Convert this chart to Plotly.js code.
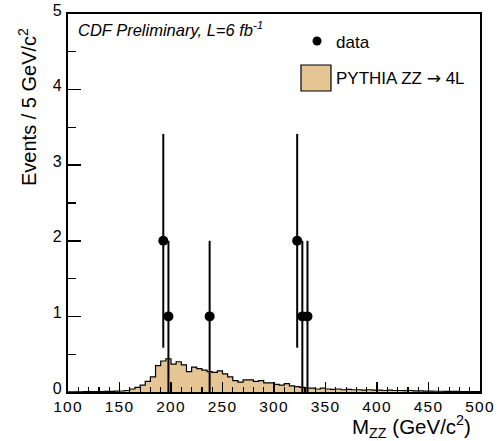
<!DOCTYPE html>
<html>
<head>
<meta charset="utf-8">
<script src="https://cdn.plot.ly/plotly-3.0.1.min.js"></script>
<style>
  html, body { margin: 0; padding: 0; background: #fff; }
  #chart { width: 499px; height: 441px; }
  .xtick text, .ytick text { letter-spacing: 1.2px; }
</style>
</head>
<body>
<div id="chart"></div>
<script>
// Histogram: PYTHIA ZZ -> 4L, 5 GeV bins from 100 to 500
const binStart = 100;
const binWidth = 5;
const mcValues = [
  0.002, 0.003, 0.003, 0.004, 0.005, 0.005, 0.006, 0.008, 0.009, 0.011,
  0.013, 0.02, 0.04, 0.06, 0.09, 0.14, 0.20, 0.35, 0.41, 0.44,
  0.37, 0.40, 0.36, 0.27, 0.33, 0.31, 0.29, 0.27, 0.26, 0.28,
  0.24, 0.20, 0.15, 0.13, 0.16, 0.16, 0.14, 0.15, 0.12, 0.12,
  0.10, 0.09, 0.11, 0.08, 0.07, 0.06, 0.05, 0.05, 0.04, 0.05,
  0.04, 0.035, 0.04, 0.03, 0.035, 0.03, 0.03, 0.025, 0.03, 0.025,
  0.025, 0.02, 0.025, 0.02, 0.02, 0.018, 0.02, 0.015, 0.015, 0.012,
  0.012, 0.01, 0.01, 0.008, 0.008, 0.007, 0.006, 0.005, 0.005, 0.004
];

// Data points
const dataMass = [192.5, 197.5, 237.5, 322.5, 327.5, 332.5];
const dataCounts = [2, 1, 1, 2, 1, 1];
const dataErrors = [1.414, 1, 1, 1.414, 1, 1];

// Axis ticks
const xTickVals = [100, 150, 200, 250, 300, 350, 400, 450, 500];
const xTickText = ['100', '150', '200', '250', '300', '350', '400', '450', '500'];
const yTickVals = [0, 1, 2, 3, 4, 5];
const yTickText = ['0', '1', '2', '3', '4', '5'];

// Build step outline (left edges + final right edge)
const stepX = mcValues.map((v, i) => binStart + i * binWidth);
const stepY = mcValues.slice();
stepX.push(binStart + mcValues.length * binWidth);
stepY.push(mcValues[mcValues.length - 1]);

const fillColor = '#e6c594';
const font = 'Liberation Sans, Arial, Helvetica, sans-serif';

const traces = [
  {
    type: 'scatter', mode: 'lines',
    x: stepX, y: stepY,
    line: { shape: 'hv', color: '#000', width: 1.2 },
    fill: 'tozeroy', fillcolor: fillColor,
    hoverinfo: 'skip', showlegend: false
  },
  {
    type: 'scatter', mode: 'markers',
    x: dataMass, y: dataCounts,
    marker: { color: '#000', size: 10, symbol: 'circle' },
    error_y: { type: 'data', array: dataErrors, arrayminus: dataErrors, symmetric: false,
               color: '#000', thickness: 2, width: 0 },
    showlegend: false, cliponaxis: false
  }
];

// helpers for paper coordinates from pixel positions
const L = 68, R = 480, T = 14, B = 392;
const px = v => (v - L) / (R - L);
const py = v => (B - v) / (B - T);

const layout = {
  width: 499, height: 441,
  margin: { l: L, r: 499 - R, t: T, b: 441 - B },
  paper_bgcolor: '#fff', plot_bgcolor: '#fff',
  showlegend: false,
  font: { family: font, color: '#000', size: 16 },
  xaxis: {
    range: [100, 500], showgrid: false, zeroline: false,
    showline: true, linecolor: '#000', linewidth: 2, mirror: true,
    ticks: 'inside', ticklen: 10, tickwidth: 1.5, tickcolor: '#000',
    tickvals: xTickVals, ticktext: xTickText,
    tickfont: { family: font, size: 15.5, color: '#000' },
    ticklabelstandoff: -1,
    minor: { dtick: 10, tick0: 100, ticks: 'inside', ticklen: 5, tickwidth: 1.2, tickcolor: '#000', showgrid: false }
  },
  yaxis: {
    range: [0, 5], showgrid: false, zeroline: false,
    showline: true, linecolor: '#000', linewidth: 2, mirror: true,
    ticks: 'inside', ticklen: 13, tickwidth: 1.5, tickcolor: '#000',
    tickvals: yTickVals, ticktext: yTickText,
    tickfont: { family: font, size: 16, color: '#000' },
    ticklabelstandoff: 0,
    ticklabelshift: -4,
    minor: { dtick: 0.5, tick0: 0, ticks: 'inside', ticklen: 8, tickwidth: 1.2, tickcolor: '#000', showgrid: false }
  },
  annotations: [
    { text: 'Events / 5 GeV/c<sup>2</sup>', xref: 'paper', yref: 'paper',
      x: px(27), y: py(107), xanchor: 'center', yanchor: 'middle', textangle: -90,
      showarrow: false, font: { family: font, size: 20, color: '#000' } },
    { text: 'M<sub>ZZ</sub> (GeV/c<sup>2</sup>)', xref: 'paper', yref: 'paper',
      x: px(351), y: py(426), xanchor: 'left', yanchor: 'middle', borderpad: 0,
      showarrow: false, font: { family: font, size: 20.5, color: '#000' } },
    { text: '<i>CDF Preliminary, L=6 fb<sup>-1</sup></i>', xref: 'paper', yref: 'paper',
      x: px(76), y: py(29), xanchor: 'left', yanchor: 'middle',
      showarrow: false, font: { family: font, size: 16.5, color: '#000' } },
    { text: 'data', xref: 'paper', yref: 'paper',
      x: px(334), y: py(42), xanchor: 'left', yanchor: 'middle',
      showarrow: false, font: { family: font, size: 17, color: '#000' } },
    { text: 'PYTHIA ZZ <span style="font-family:DejaVu Sans">\u2192</span> 4L', xref: 'paper', yref: 'paper',
      x: px(334), y: py(78), xanchor: 'left', yanchor: 'middle',
      showarrow: false, font: { family: font, size: 17, color: '#000' } }
  ],
  shapes: [
    { type: 'rect', xref: 'paper', yref: 'paper',
      x0: px(301), x1: px(331), y0: py(91), y1: py(65),
      fillcolor: fillColor, line: { color: '#000', width: 1.2 } },
    { type: 'circle', xref: 'paper', yref: 'paper',
      xsizemode: 'pixel', ysizemode: 'pixel',
      xanchor: px(317), yanchor: py(41),
      x0: -4.5, x1: 4.5, y0: -4.5, y1: 4.5,
      fillcolor: '#000', line: { color: '#000', width: 0 } }
  ]
};

Plotly.newPlot('chart', traces, layout, { staticPlot: true, displayModeBar: false });
</script>
</body>
</html>
